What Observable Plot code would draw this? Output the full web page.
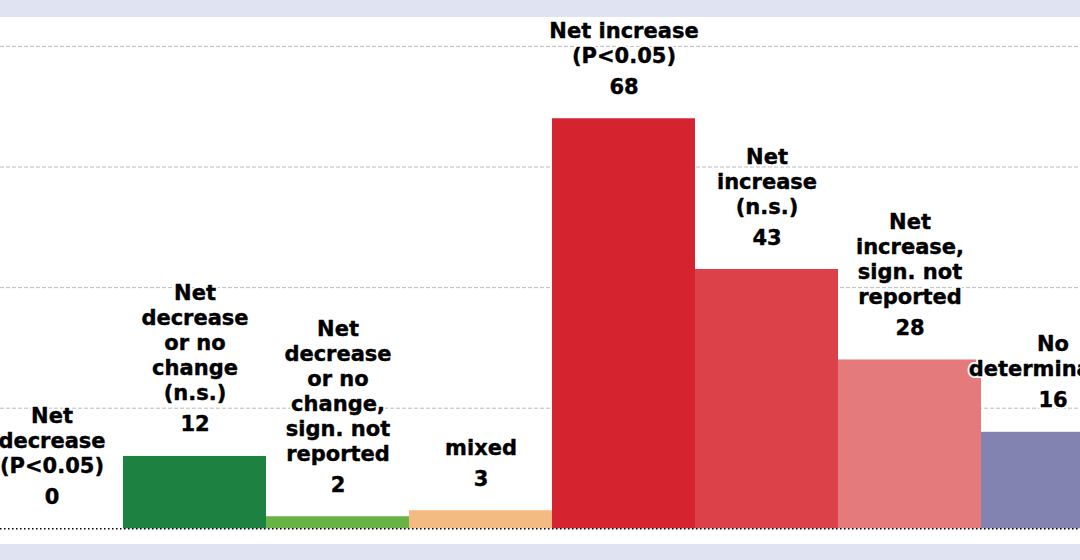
<!DOCTYPE html>
<html><head><meta charset="utf-8">
<script src="https://cdn.jsdelivr.net/npm/d3@7"></script>
<script src="https://cdn.jsdelivr.net/npm/@observablehq/plot@0.6"></script>
<style>
html,body{margin:0;padding:0;background:#e0e4f2;}
#chart{padding-top:17px;width:1080px;height:560px;box-sizing:border-box;overflow:hidden;}
#chart svg{background:#fff;display:block;}
</style></head><body><div id="chart"></div>
<script>
const categories = [
  "Net decrease (P<0.05)",
  "Net decrease or no change (n.s.)",
  "Net decrease or no change, sign. not reported",
  "mixed",
  "Net increase (P<0.05)",
  "Net increase (n.s.)",
  "Net increase, sign. not reported",
  "No determination"
];
const labels = [
  "Net\ndecrease\n(P<0.05)",
  "Net\ndecrease\nor no\nchange\n(n.s.)",
  "Net\ndecrease\nor no\nchange,\nsign. not\nreported",
  "mixed",
  "Net increase\n(P<0.05)",
  "Net\nincrease\n(n.s.)",
  "Net\nincrease,\nsign. not\nreported",
  "No\ndetermination"
];
const values = [0, 12, 2, 3, 68, 43, 28, 16];
const colors = ["#155f2f", "#1d8141", "#67b346", "#f3bb81", "#d52430", "#dc4048", "#e47a7c", "#8283b1"];
const gridTicks = [20, 40, 60, 80];

const data = categories.map((c, i) => ({cat: c, label: labels[i], value: values[i], color: colors[i]}));

const base = {x: "cat", y: "value", fontSize: 21, fontWeight: "bold", lineAnchor: "bottom", lineHeight: 1.19};
const halo = {...base, fill: "#fff", stroke: "#fff", strokeWidth: 4};
const ink = {...base, fill: "#000", stroke: "#000", strokeWidth: 0.4};
const valueText = d => String(d.value);

const chart = Plot.plot({
  width: 1080,
  height: 527,
  marginTop: 28.9,
  marginBottom: 15.7,
  marginLeft: 0,
  marginRight: 0,
  x: {domain: categories, range: [-21.3, 1125.3], padding: 0, axis: null},
  y: {domain: [0, 80], axis: null},
  color: {type: "identity"},
  style: {fontFamily: "DejaVu Sans", background: "#fff", overflow: "hidden"},
  marks: [
    Plot.ruleY(gridTicks, {stroke: "#bdbdbd", strokeDasharray: "4,2", strokeWidth: 1}),
    Plot.barY(data, {x: "cat", y: "value", fill: "color"}),
    Plot.ruleY([0], {stroke: "#000", strokeDasharray: "1.5,2.5", strokeWidth: 1.6}),
    Plot.text(data, {...halo, text: valueText, dy: -25}),
    Plot.text(data, {...halo, text: "label", dy: -56}),
    Plot.text(data, {...ink, text: valueText, dy: -25}),
    Plot.text(data, {...ink, text: "label", dy: -56})
  ]
});
document.getElementById("chart").append(chart);
</script>
</body></html>
